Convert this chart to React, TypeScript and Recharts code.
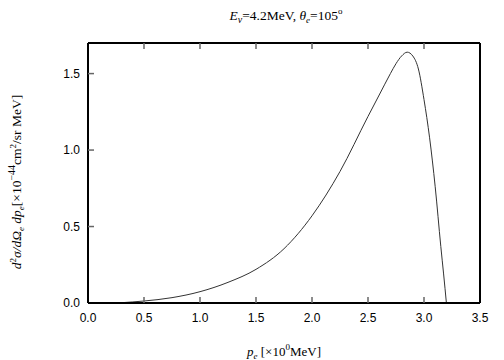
import React from "react";
import { LineChart, Line, XAxis, YAxis, Label } from "recharts";

const momentum = [0.25, 0.3, 0.4, 0.5, 0.75, 1.0, 1.25, 1.5, 1.75, 2.0, 2.25, 2.5, 2.6, 2.7, 2.75, 2.8, 2.85, 2.9, 2.95, 3.0, 3.05, 3.1, 3.15, 3.175, 3.2];
const crossSection = [0.0, 0.002, 0.007, 0.013, 0.035, 0.074, 0.135, 0.22, 0.355, 0.57, 0.86, 1.22, 1.36, 1.5, 1.565, 1.615, 1.64, 1.615, 1.53, 1.33, 1.08, 0.76, 0.37, 0.19, 0.0];
const xTicks = [0, 0.5, 1, 1.5, 2, 2.5, 3, 3.5];
const yTicks = [0, 0.5, 1, 1.5];
const xMax = 3.5;
const yMax = 1.7;

const data = momentum.map((p, i) => ({ p, v: crossSection[i] }));

const serif = "'Liberation Serif', 'Times New Roman', serif";
const sans = "'Liberation Sans', Arial, Helvetica, sans-serif";

const TICK_LEN = 6;
const X_MARGIN = 10;
const Y_MARGIN = 8;
const MARK = { stroke: "#666", strokeWidth: 1.5 };

const BottomTick = (props: any) => {
  const { x, y, payload, index, visibleTicksCount } = props;
  const axisY = y - X_MARGIN;
  const inner = index > 0 && index < visibleTicksCount - 1;
  return (
    <g>
      {inner && <line x1={x} y1={axisY} x2={x} y2={axisY - TICK_LEN} {...MARK} />}
      <text x={x} y={y} dy="0.71em" textAnchor="middle" fontSize={12} fontFamily={sans} fill="#000">
        {Number(payload.value).toFixed(1)}
      </text>
    </g>
  );
};

const TopTick = (props: any) => {
  const { x, y, index, visibleTicksCount } = props;
  const axisY = y + X_MARGIN;
  const inner = index > 0 && index < visibleTicksCount - 1;
  return <g>{inner && <line x1={x} y1={axisY} x2={x} y2={axisY + TICK_LEN} {...MARK} />}</g>;
};

const LeftTick = (props: any) => {
  const { x, y, payload, index } = props;
  const axisX = x + Y_MARGIN;
  return (
    <g>
      {index > 0 && <line x1={axisX} y1={y} x2={axisX + TICK_LEN} y2={y} {...MARK} />}
      <text x={x} y={y} dy="0.355em" textAnchor="end" fontSize={12} fontFamily={sans} fill="#000">
        {Number(payload.value).toFixed(1)}
      </text>
    </g>
  );
};

const RightTick = (props: any) => {
  const { x, y, index } = props;
  const axisX = x - Y_MARGIN;
  return <g>{index > 0 && <line x1={axisX} y1={y} x2={axisX - TICK_LEN} y2={y} {...MARK} />}</g>;
};

const TitleLabel = (props: any) => {
  const vb = props.viewBox;
  const cx = vb.x + vb.width / 2;
  return (
    <text x={cx + 2} y={20} textAnchor="middle" fontFamily={serif} fontSize={13.5} fill="#000">
      <tspan fontStyle="italic">E</tspan>
      <tspan fontStyle="italic" fontSize={10} dy={3}>ν</tspan>
      <tspan dy={-3}>=4.2MeV,  </tspan>
      <tspan fontStyle="italic">θ</tspan>
      <tspan fontStyle="italic" fontSize={9} dy={3}>e</tspan>
      <tspan dy={-3}>=105</tspan>
      <tspan fontSize={9} dy={-6}>o</tspan>
    </text>
  );
};

const XTitle = (props: any) => {
  const vb = props.viewBox;
  const cx = vb.x + vb.width / 2;
  return (
    <text x={cx} y={356} textAnchor="middle" fontFamily={serif} fontSize={13} fill="#000">
      <tspan fontStyle="italic">p</tspan>
      <tspan fontStyle="italic" fontSize={9} dy={3}>e</tspan>
      <tspan dy={-3}> [×10</tspan>
      <tspan fontSize={9} dy={-6}>0</tspan>
      <tspan dy={6}>MeV]</tspan>
    </text>
  );
};

const YTitle = () => {
  const cy = 182;
  const x = 21;
  return (
    <text x={x} y={cy} textAnchor="middle" fontFamily={serif} fontSize={13.5} fill="#000" transform={`rotate(-90 ${x} ${cy})`}>
      <tspan fontStyle="italic">d</tspan>
      <tspan fontSize={9} dy={-5}>2</tspan>
      <tspan fontStyle="italic" dy={5}>σ/dΩ</tspan>
      <tspan fontStyle="italic" fontSize={9} dy={3}>e</tspan>
      <tspan fontStyle="italic" dy={-3}> dp</tspan>
      <tspan fontStyle="italic" fontSize={9} dy={3}>e</tspan>
      <tspan dy={-3}>[×10</tspan>
      <tspan fontSize={10} dy={-6}>−44</tspan>
      <tspan dy={6}>cm</tspan>
      <tspan fontSize={9} dy={-5}>2</tspan>
      <tspan dy={5}>/sr MeV]</tspan>
    </text>
  );
};

export default function App() {
  return (
    <div style={{ position: "absolute", left: 0, top: 0, width: 504, height: 360, background: "#fff" }}>
      <LineChart width={504} height={360} data={data} margin={{ top: 23, right: 14, bottom: 27, left: 48 }}>
        <XAxis
          xAxisId="bottom"
          dataKey="p"
          type="number"
          domain={[0, xMax]}
          ticks={xTicks}
          tick={<BottomTick />}
          tickSize={0}
          tickMargin={X_MARGIN}
          tickLine={false}
          axisLine={{ stroke: "#000", strokeWidth: 2 }}
          height={30}
        >
          <Label content={<XTitle />} />
        </XAxis>
        <XAxis
          xAxisId="top"
          orientation="top"
          dataKey="p"
          type="number"
          domain={[0, xMax]}
          ticks={xTicks}
          tick={<TopTick />}
          tickSize={0}
          tickMargin={X_MARGIN}
          tickLine={false}
          axisLine={{ stroke: "#000", strokeWidth: 2 }}
          height={20}
        >
          <Label content={<TitleLabel />} />
        </XAxis>
        <YAxis
          yAxisId="left"
          type="number"
          domain={[0, yMax]}
          ticks={yTicks}
          tick={<LeftTick />}
          tickSize={0}
          tickMargin={Y_MARGIN}
          tickLine={false}
          axisLine={{ stroke: "#000", strokeWidth: 2 }}
          width={40}
        >
          <Label content={<YTitle />} />
        </YAxis>
        <YAxis
          yAxisId="right"
          orientation="right"
          type="number"
          domain={[0, yMax]}
          ticks={yTicks}
          tick={<RightTick />}
          tickSize={0}
          tickMargin={Y_MARGIN}
          tickLine={false}
          axisLine={{ stroke: "#000", strokeWidth: 2 }}
          width={10}
        />
        <Line
          xAxisId="bottom"
          yAxisId="left"
          type="monotone"
          dataKey="v"
          stroke="#333"
          strokeWidth={1}
          dot={false}
          isAnimationActive={false}
        />
      </LineChart>
    </div>
  );
}
